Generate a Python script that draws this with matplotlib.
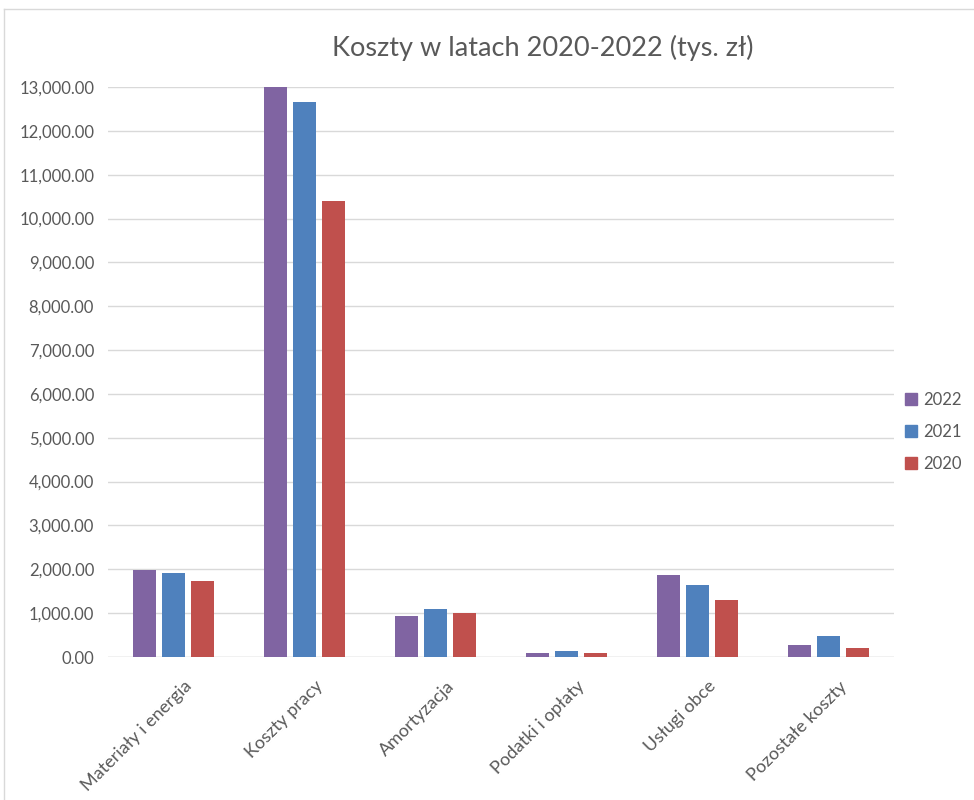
import matplotlib
matplotlib.use("Agg")
import matplotlib.pyplot as plt
import matplotlib.transforms as mtransforms
from matplotlib.lines import Line2D
from matplotlib.ticker import FuncFormatter, MultipleLocator
import numpy as np

categories = ["Materiały i energia", "Koszty pracy", "Amortyzacja",
              "Podatki i opłaty", "Usługi obce", "Pozostałe koszty"]
series_names = ["2022", "2021", "2020"]
values_2022 = [1985, 13000, 935, 80, 1860, 270]
values_2021 = [1915, 12660, 1090, 130, 1650, 470]
values_2020 = [1730, 10400, 1010, 85, 1310, 200]
colors = ["#8064A2", "#4F81BD", "#C0504D"]

FONT = ["Lato", "DejaVu Sans"]
TXT = "#595959"

fig = plt.figure(figsize=(9.74, 8.0), dpi=100)
ax = fig.add_axes([108/974, 1-657/800, (894-108)/974, (657-87)/800])

x = np.arange(len(categories))
width = 0.175
step = 0.222
for i, (vals, name, c) in enumerate(zip([values_2022, values_2021, values_2020], series_names, colors)):
    ax.bar(x + (i-1)*step, vals, width=width, color=c, label=name, zorder=3)

ax.set_xlim(-0.5, len(categories)-0.5)
ax.set_ylim(0, 13000)
ax.yaxis.set_major_locator(MultipleLocator(1000))
ax.yaxis.set_major_formatter(FuncFormatter(lambda v, p: f"{v:,.2f}"))
ax.grid(axis="y", color="#D9D9D9", linewidth=1.0, zorder=0)
for s in ax.spines.values():
    s.set_visible(False)
ax.axhline(0, color="#D9D9D9", linewidth=1.0, zorder=2)
ax.tick_params(axis="both", length=0, colors=TXT)
ax.tick_params(axis="y", pad=10)

ax.set_xticks(x)
ax.set_xticklabels(categories, rotation=45, ha="right", va="center",
                   rotation_mode="anchor", fontsize=13, family=FONT, color=TXT)
offset = mtransforms.ScaledTranslation(16/100, -22/100, fig.dpi_scale_trans)
for lbl in ax.get_xticklabels():
    lbl.set_transform(lbl.get_transform() + offset)
for lbl in ax.get_yticklabels():
    lbl.set_family(FONT)
    lbl.set_fontsize(12)
    lbl.set_color(TXT)

fig.text(543/974, 1-48/800, "Koszty w latach 2020-2022 (tys. zł)", ha="center", va="center",
         fontsize=19.5, family=FONT, color=TXT)

handles = [plt.Rectangle((0, 0), 1, 1, color=c) for c in colors]
leg = fig.legend(handles, series_names, loc="upper left", bbox_to_anchor=(890/974, 1-377/800),
                 frameon=False, handlelength=0.7, handleheight=0.7, handletextpad=0.4,
                 labelspacing=0.95, prop={"family": FONT, "size": 12})
for t in leg.get_texts():
    t.set_color(TXT)

# outer chart border (top & left)
fig.add_artist(Line2D([4/974, 4/974], [0, 1-9/800], transform=fig.transFigure, color="#D9D9D9", lw=1))
fig.add_artist(Line2D([4/974, 1], [1-9/800, 1-9/800], transform=fig.transFigure, color="#D9D9D9", lw=1))

fig.savefig("out.png", dpi=100)
